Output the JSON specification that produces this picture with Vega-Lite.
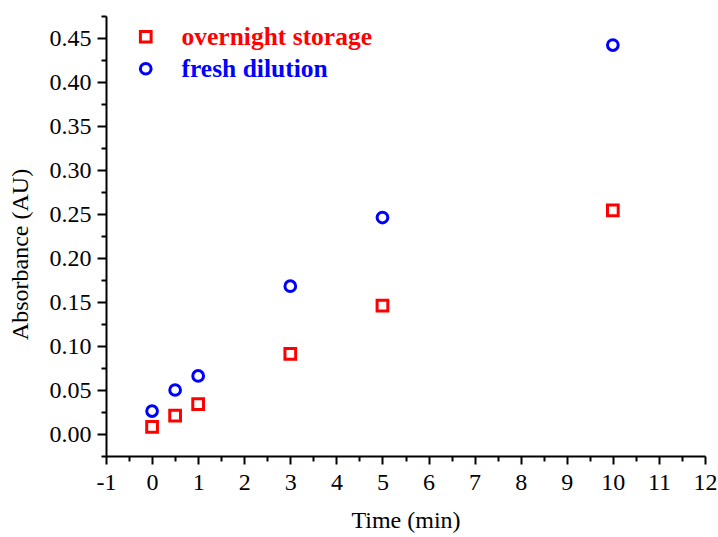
{
  "$schema": "https://vega.github.io/schema/vega-lite/v6.json",
  "width": 599,
  "height": 440,
  "autosize": "none",
  "padding": {"left": 106, "top": 16, "right": 13, "bottom": 81},
  "background": "white",
  "config": {
    "font": "Liberation Serif",
    "view": {"stroke": null},
    "axis": {
      "grid": false,
      "domainColor": "black",
      "domainWidth": 2,
      "tickColor": "black",
      "tickWidth": 2,
      "labelColor": "black",
      "labelFont": "Liberation Serif",
      "labelFontSize": 24,
      "titleFont": "Liberation Serif",
      "titleFontSize": 24,
      "titleFontWeight": "normal",
      "titleColor": "black"
    }
  },
  "datasets": {
    "absorbance": [
      {"time": 0, "absorbance": 0.008, "series": "overnight storage"},
      {"time": 0.5, "absorbance": 0.021, "series": "overnight storage"},
      {"time": 1, "absorbance": 0.034, "series": "overnight storage"},
      {"time": 3, "absorbance": 0.091, "series": "overnight storage"},
      {"time": 5, "absorbance": 0.146, "series": "overnight storage"},
      {"time": 10, "absorbance": 0.254, "series": "overnight storage"},
      {"time": 0, "absorbance": 0.026, "series": "fresh dilution"},
      {"time": 0.5, "absorbance": 0.050, "series": "fresh dilution"},
      {"time": 1, "absorbance": 0.066, "series": "fresh dilution"},
      {"time": 3, "absorbance": 0.168, "series": "fresh dilution"},
      {"time": 5, "absorbance": 0.246, "series": "fresh dilution"},
      {"time": 10, "absorbance": 0.442, "series": "fresh dilution"}
    ]
  },
  "resolve": {"axis": {"x": "independent", "y": "independent"}},
  "layer": [
    {
      "data": {"name": "absorbance"},
      "mark": {"type": "point", "filled": false, "strokeWidth": 3, "size": 115, "opacity": 1},
      "encoding": {
        "x": {
          "field": "time",
          "type": "quantitative",
          "scale": {"domain": [-1, 12], "nice": false, "zero": false},
          "axis": {
            "orient": "bottom",
            "title": "Time (min)",
            "values": [-1, 0, 1, 2, 3, 4, 5, 6, 7, 8, 9, 10, 11, 12],
            "format": "d",
            "labelExpr": "datum.value < 0 ? '-' + abs(datum.value) : datum.label",
            "tickSize": 8,
            "labelPadding": 6,
            "labelFlush": false,
            "labelOverlap": false,
            "titlePadding": 14
          }
        },
        "y": {
          "field": "absorbance",
          "type": "quantitative",
          "scale": {"domain": [-0.025, 0.475], "nice": false, "zero": false},
          "axis": {
            "orient": "left",
            "title": "Absorbance (AU)",
            "values": [0, 0.05, 0.1, 0.15, 0.2, 0.25, 0.3, 0.35, 0.4, 0.45],
            "format": ".2f",
            "tickSize": 9,
            "labelPadding": 6,
            "labelFlush": false,
            "labelOverlap": false,
            "titlePadding": 17,
            "titleY": 238
          }
        },
        "color": {
          "field": "series",
          "type": "nominal",
          "scale": {"domain": ["overnight storage", "fresh dilution"], "range": ["#ff0000", "#0000ff"]},
          "legend": {
            "orient": "none",
            "legendX": 27,
            "legendY": 8,
            "title": null,
            "padding": 0,
            "labelFontSize": 25.5,
            "labelFontWeight": "bold",
            "labelFont": "Liberation Serif",
            "labelLimit": 0,
            "labelOffset": 23,
            "labelColor": {"expr": "datum.value === 'overnight storage' ? '#ff0000' : '#0000ff'"},
            "rowPadding": 5,
            "symbolSize": 115,
            "symbolStrokeWidth": 3
          }
        },
        "shape": {
          "field": "series",
          "type": "nominal",
          "scale": {"domain": ["overnight storage", "fresh dilution"], "range": ["square", "circle"]}
        }
      }
    },
    {
      "data": {"name": "absorbance"},
      "mark": {"type": "point", "opacity": 0},
      "encoding": {
        "x": {
          "field": "time",
          "type": "quantitative",
          "scale": {"domain": [-1, 12], "nice": false, "zero": false},
          "axis": {
            "orient": "bottom",
            "title": null,
            "labels": false,
            "domain": false,
            "tickSize": 5,
            "values": [-0.5, 0.5, 1.5, 2.5, 3.5, 4.5, 5.5, 6.5, 7.5, 8.5, 9.5, 10.5, 11.5]
          }
        },
        "y": {
          "field": "absorbance",
          "type": "quantitative",
          "scale": {"domain": [-0.025, 0.475], "nice": false, "zero": false},
          "axis": {
            "orient": "left",
            "title": null,
            "labels": false,
            "domain": false,
            "tickSize": 5,
            "values": [-0.025, 0.025, 0.075, 0.125, 0.175, 0.225, 0.275, 0.325, 0.375, 0.425, 0.475]
          }
        }
      }
    }
  ]
}
